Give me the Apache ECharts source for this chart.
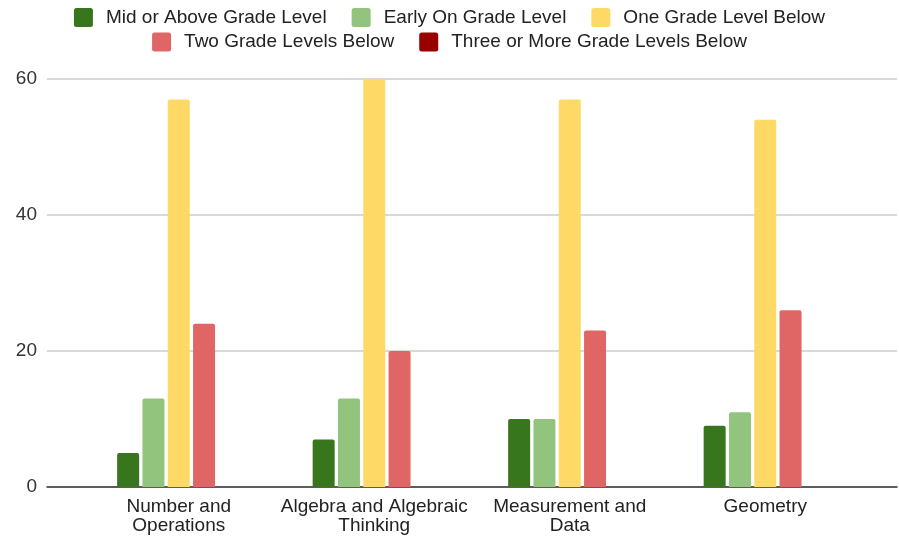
<!DOCTYPE html>
<html>
<head>
<meta charset="utf-8">
<script src="https://cdn.jsdelivr.net/npm/echarts@6/dist/echarts.min.js"></script>
<style>html,body{margin:0;padding:0;background:#fff}#c{width:899px;height:537px}</style>
</head>
<body>
<div id="c"></div>
<script>
const categories = ['Number and Operations', 'Algebra and Algebraic Thinking', 'Measurement and Data', 'Geometry'];
const tickLabels = ['Number and\nOperations', 'Algebra and Algebraic\nThinking', 'Measurement and\nData', 'Geometry'];
const seriesNames = ['Mid or Above Grade Level', 'Early On Grade Level', 'One Grade Level Below', 'Two Grade Levels Below', 'Three or More Grade Levels Below'];
const midOrAbove = [5, 7, 10, 9];
const earlyOn = [13, 13, 10, 11];
const oneBelow = [57, 60, 57, 54];
const twoBelow = [24, 20, 23, 26];
const threeOrMore = [0, 0, 0, 0];
const yTicks = [0, 20, 40, 60];

const colors = ['#38761d', '#93c47d', '#ffd966', '#e06666', '#990000'];
const values = [midOrAbove, earlyOn, oneBelow, twoBelow, threeOrMore];
const FONT = '"Liberation Sans", Arial, sans-serif';
const ICON = 'path://M2.5,0 H16.5 Q19,0 19,2.5 V16.5 Q19,19 16.5,19 H2.5 Q0,19 0,16.5 V2.5 Q0,0 2.5,0 Z';

const chart = echarts.init(document.getElementById('c'), null, {renderer: 'canvas'});
const legendCommon = {
  orient: 'horizontal', left: 'center', icon: ICON,
  itemWidth: 19, itemHeight: 19, itemGap: 25,
  textStyle: {fontFamily: FONT, fontSize: 19, lineHeight: 19, color: '#222', padding: [0, 0, 0, 8]},
  selectedMode: false
};
chart.setOption({
  animation: false,
  color: colors,
  legend: [
    Object.assign({}, legendCommon, {top: 3, data: seriesNames.slice(0, 3)}),
    Object.assign({}, legendCommon, {top: 27.5, data: seriesNames.slice(3)})
  ],
  grid: [
    {left: 47, right: 2, top: 79, bottom: 50},
    {left: 81, right: 36, top: 79, bottom: 50}
  ],
  xAxis: [
    {gridIndex: 0, type: 'value', min: 0, max: 1, axisLabel: {show: false}, axisTick: {show: false},
     splitLine: {show: false}, axisLine: {show: true, lineStyle: {color: '#333', width: 1.5}}},
    {gridIndex: 1, type: 'category', data: categories, axisLine: {show: false}, axisTick: {show: false},
     axisLabel: {fontFamily: FONT, fontSize: 19, color: '#222', margin: 10, lineHeight: 19, interval: 0,
       formatter: (v, i) => tickLabels[i]}}
  ],
  yAxis: [
    {gridIndex: 0, type: 'value', min: yTicks[0], max: yTicks[yTicks.length - 1], interval: 20,
     axisLine: {show: false}, axisTick: {show: false},
     axisLabel: {fontFamily: FONT, fontSize: 19, color: '#333', margin: 10},
     splitLine: {lineStyle: {color: '#ccc', width: 1.5}}},
    {gridIndex: 1, type: 'value', min: yTicks[0], max: yTicks[yTicks.length - 1], show: false, splitLine: {show: false}}
  ],
  series: seriesNames.map((n, k) => ({
    name: n, type: 'bar', xAxisIndex: 1, yAxisIndex: 1,
    data: values[k], barWidth: 22, barGap: '15%',
    itemStyle: {color: colors[k], borderRadius: [2, 2, 0, 0]}
  }))
});
</script>
</body>
</html>
